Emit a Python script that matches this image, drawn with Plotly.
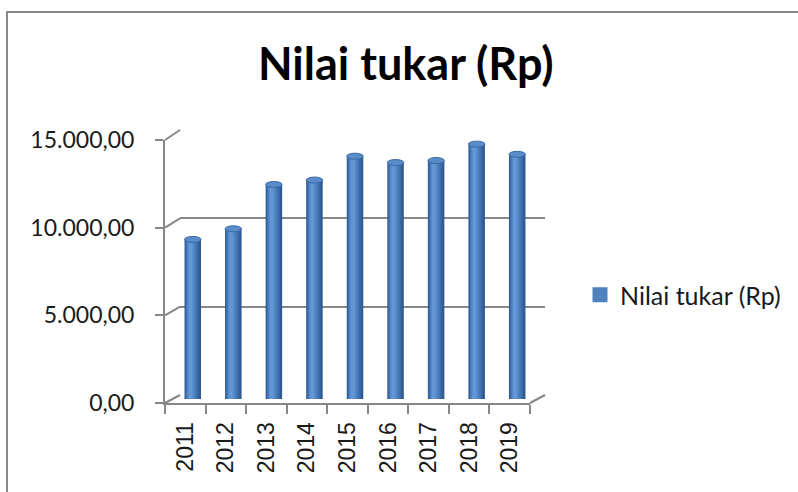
import plotly.graph_objects as go

# ---------------- data ----------------
years = ['2011', '2012', '2013', '2014', '2015', '2016', '2017', '2018', '2019']
rates = [9068, 9670, 12189, 12440, 13795, 13436, 13548, 14481, 13901]
y_ticks = [0, 5000, 10000, 15000]
y_max = 15000
title_text = 'Nilai tukar (Rp)'
series_name = 'Nilai tukar (Rp)'

# ---------------- geometry / style ----------------
W, H = 798, 492
def fx(px):
    return px / W
def fy(py):
    return 1 - py / H

FRONT = dict(x0=165, x1=530, ybot=403, ytop=140)
BACK = dict(x0=180, x1=545, ybot=395, ytop=130)
MID = dict(x0=172.5, x1=537.5, ybot=399, ytop=135)

GRID = '#878787'
TXT = '#1a1a1a'
n = len(years)
unit_px = (MID['x1'] - MID['x0']) / n

def dom_x(p):
    return [fx(p['x0']), fx(p['x1'])]
def dom_y(p):
    return [fy(p['ybot']), fy(p['ytop'])]
def ypix(p, v):
    return p['ybot'] - (p['ybot'] - p['ytop']) * v / y_max

fig = go.Figure()

# invisible trace on front axes (establishes categories)
fig.add_trace(go.Scatter(x=years, y=rates, xaxis='x', yaxis='y', mode='markers',
                         marker=dict(opacity=0), showlegend=False, hoverinfo='skip'))
# invisible trace on back axes
fig.add_trace(go.Scatter(x=[0], y=[0], xaxis='x2', yaxis='y2', mode='markers',
                         marker=dict(opacity=0), showlegend=False, hoverinfo='skip'))

# cylinder body, built from overlaid bands (width px, shift px, color)
bands = [(16.5, 0, '#2e5a91'), (13.5, -0.6, '#3a69a5'), (10.5, -1.2, '#4678b7'),
         (7.5, -1.8, '#5387c8'), (4, -2.2, '#6296d5')]
for wpx, spx, col in bands:
    w = wpx / unit_px
    s = spx / unit_px
    fig.add_trace(go.Bar(x=years, y=rates, xaxis='x3', yaxis='y3',
                         width=w, offset=-w / 2 + s,
                         marker=dict(color=col, line=dict(width=0)),
                         showlegend=False, hoverinfo='skip'))

# legend entry
fig.add_trace(go.Scatter(x=[None], y=[None], xaxis='x3', yaxis='y3', mode='markers',
                         marker=dict(symbol='square', size=15, color='#4f81bd'),
                         name=series_name, showlegend=True))

shapes = []
# cylinder tops and bottoms
for i, v in enumerate(rates):
    shapes.append(dict(type='circle', xref='x3', yref='y3', xsizemode='pixel', ysizemode='pixel',
                       xanchor=i, yanchor=v, x0=-8.25, x1=8.25, y0=-3, y1=3,
                       fillcolor='#5a8bcb', line=dict(color='#3a6aa3', width=1), layer='above'))
    shapes.append(dict(type='circle', xref='x3', yref='y3', xsizemode='pixel', ysizemode='pixel',
                       xanchor=i, yanchor=0, x0=-8.25, x1=8.25, y0=-3, y1=3,
                       fillcolor='#3b69a3', line=dict(width=0), layer='below'))

# 3D frame diagonals (front axis -> back wall)
for v in y_ticks:
    shapes.append(dict(type='line', xref='paper', yref='paper',
                       x0=fx(FRONT['x0']), y0=fy(ypix(FRONT, v)),
                       x1=fx(BACK['x0']), y1=fy(ypix(BACK, v)),
                       line=dict(color=GRID, width=2)))
shapes.append(dict(type='line', xref='paper', yref='paper',
                   x0=fx(FRONT['x1']), y0=fy(ypix(FRONT, 0)),
                   x1=fx(BACK['x1']), y1=fy(ypix(BACK, 0)),
                   line=dict(color=GRID, width=2)))

# chart frame border
shapes.append(dict(type='path', xref='paper', yref='paper',
                   path=f'M {fx(7)} {fy(H + 5)} L {fx(7)} {fy(12)} L {fx(W + 5)} {fy(12)}',
                   line=dict(color='#8a8a8a', width=2)))

fig.update_layout(
    width=W, height=H, autosize=False,
    margin=dict(l=0, r=0, t=0, b=0, pad=0),
    paper_bgcolor='white', plot_bgcolor='rgba(0,0,0,0)',
    separators=',.',
    barmode='overlay',
    showlegend=True,
    legend=dict(x=fx(580), y=fy(295), xanchor='left', yanchor='middle',
                font=dict(family='Lato', size=25, color=TXT),
                bgcolor='rgba(0,0,0,0)'),
    shapes=shapes,
    annotations=[dict(text='<b>' + title_text + '</b>', xref='paper', yref='paper',
                      x=fx(406), y=fy(63), xanchor='center', yanchor='middle',
                      showarrow=False, font=dict(family='Lato', size=45, color='black'))],
    xaxis=dict(domain=dom_x(FRONT), anchor='y', type='category', range=[-0.5, n - 0.5],
               showline=True, linecolor=GRID, linewidth=2, showgrid=False,
               ticks='outside', ticklen=9, tickwidth=2, tickcolor=GRID, tickson='boundaries',
               tickangle=-90, tickfont=dict(family='Liberation Sans', size=23, color=TXT),
               ticklabelstandoff=8, automargin=False, fixedrange=True),
    yaxis=dict(domain=dom_y(FRONT), anchor='x', range=[0, y_max],
               showline=True, linecolor=GRID, linewidth=2, showgrid=False, zeroline=False,
               tickvals=y_ticks, tickformat=',.2f', ticks='outside', ticklen=8, tickwidth=2,
               tickcolor=GRID, tickfont=dict(family='Lato', size=23, color=TXT),
               ticklabelstandoff=16, automargin=False, fixedrange=True),
    xaxis2=dict(domain=dom_x(BACK), anchor='y2', range=[-0.5, n - 0.5],
                visible=False, fixedrange=True),
    yaxis2=dict(domain=dom_y(BACK), anchor='x2', range=[0, y_max],
                showgrid=True, gridcolor=GRID, gridwidth=2, zeroline=False,
                tickvals=y_ticks, showticklabels=False, ticks='', showline=False,
                automargin=False, fixedrange=True),
    xaxis3=dict(domain=dom_x(MID), anchor='y3', type='category', range=[-0.5, n - 0.5],
                visible=False, fixedrange=True),
    yaxis3=dict(domain=dom_y(MID), anchor='x3', range=[0, y_max],
                visible=False, fixedrange=True),
)

fig.write_html('out.html', config={'displayModeBar': False},
               post_script="document.body.style.margin='0';")
